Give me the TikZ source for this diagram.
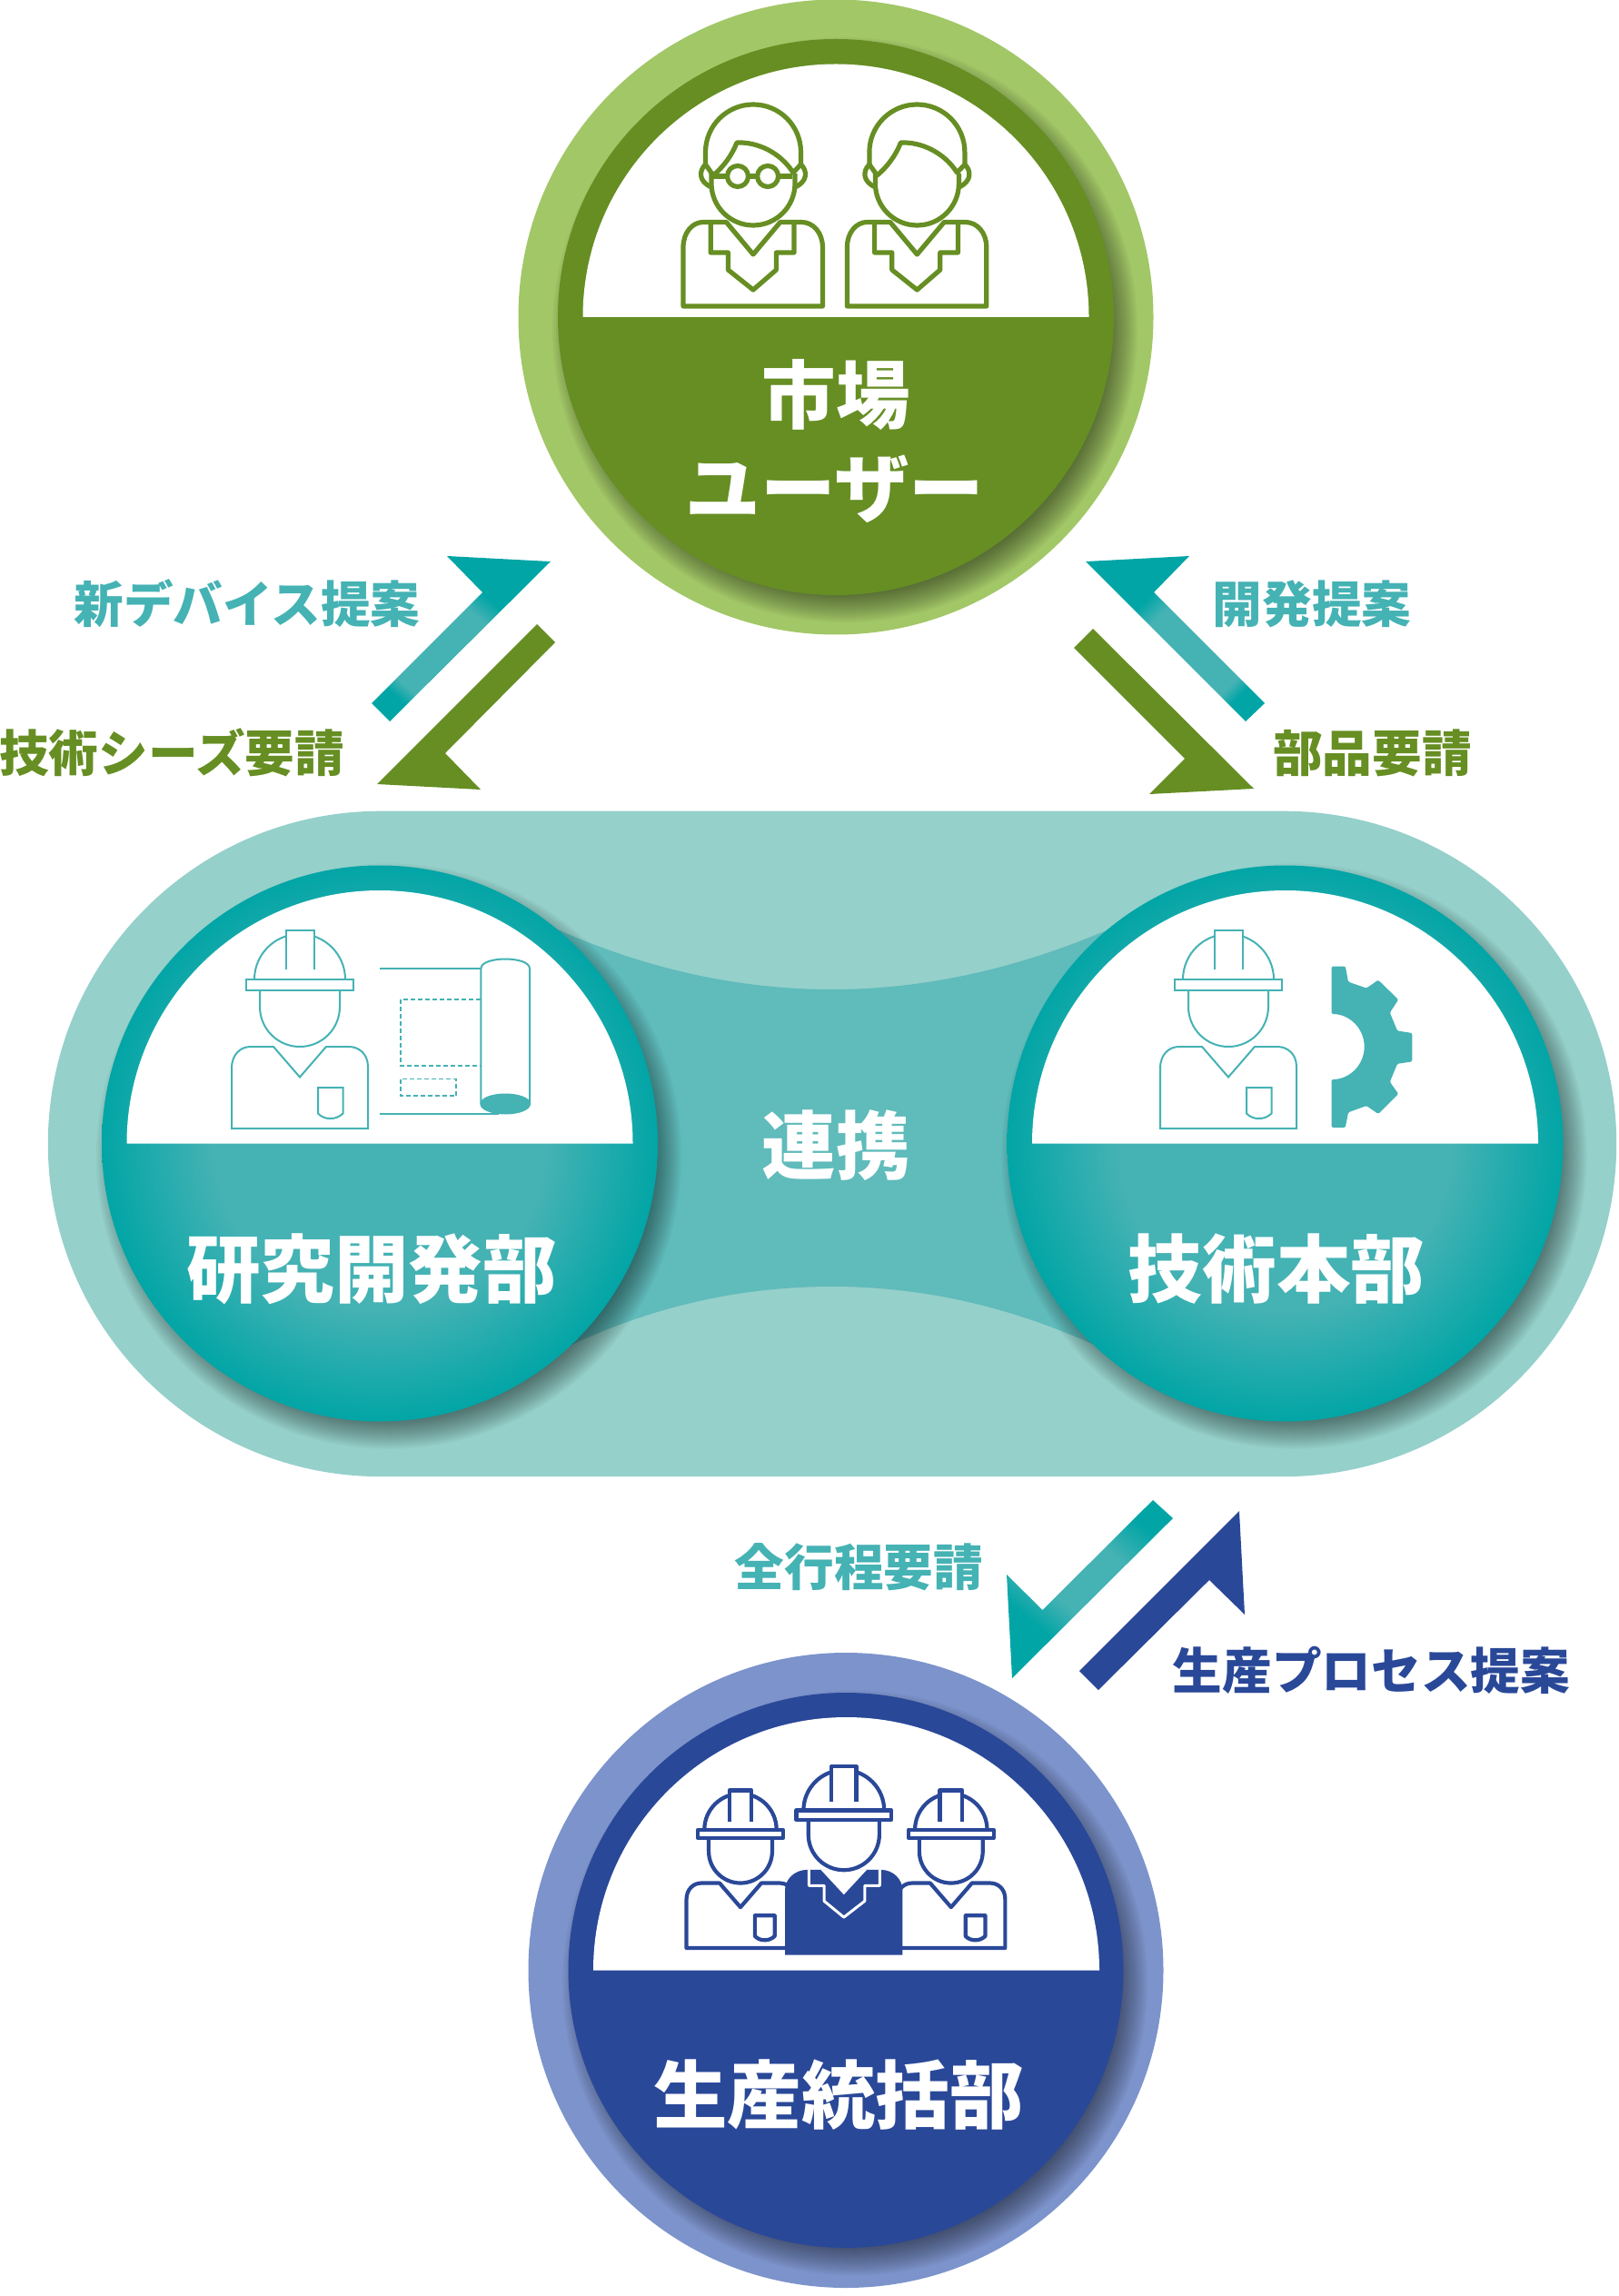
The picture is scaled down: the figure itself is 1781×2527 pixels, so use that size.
\documentclass[tikz,border=0pt]{standalone}
\usepackage{fontspec}
\setmainfont{Noto Sans CJK JP}[BoldFont={Noto Sans CJK JP Black}]
\definecolor{leafdark}{HTML}{668E23}
\definecolor{leaflight}{HTML}{A2C767}
\definecolor{tealdark}{HTML}{02A5A6}
\definecolor{teallight}{HTML}{45B2B4}
\definecolor{tealpale}{HTML}{95D0CA}
\definecolor{tealmid}{HTML}{60BBBB}
\definecolor{navydark}{HTML}{2A4898}
\definecolor{navylight}{HTML}{7C93CB}
\pgfdeclareradialshading{tealdisc}{\pgfpoint{0bp}{0bp}}{color(0bp)=(teallight); color(15bp)=(teallight); color(25bp)=(tealdark); color(50bp)=(tealdark)}
\pgfdeclareverticalshading{tealband}{100bp}{color(0bp)=(tealdark); color(25bp)=(tealdark); color(29bp)=(teallight); color(58bp)=(teallight); color(64bp)=(tealdark); color(100bp)=(tealdark)}
\pgfdeclareverticalshading{tealbandlow}{100bp}{color(0bp)=(tealdark); color(26bp)=(tealdark); color(38bp)=(teallight); color(58bp)=(teallight); color(68bp)=(tealdark); color(100bp)=(tealdark)}
\tikzset{
    smalltxt/.style={anchor=base,inner sep=0pt,font=\fontsize{15.55}{18}\selectfont\bfseries},
    bigtxt/.style={anchor=base,inner sep=0pt,text=white,font=\fontsize{23.2}{27}\selectfont\bfseries},
    iconleaf/.style={draw=leafdark,line width=0.52mm,line join=round},
    iconteal/.style={draw=teallight,line width=0.2mm},
    iconnavy/.style={draw=navydark,line width=0.42mm,line join=round},
    dashbox/.style={draw=teallight,line width=0.14mm,dash pattern=on 0.5mm off 0.3mm},
}
\newcommand{\softshadow}[2]{\foreach \sr in {286,288,...,322}{\fill[black,opacity=0.033] (#1+10,#2+14) circle (\sr);}}
\newcommand{\whitecap}[2]{\fill[white] (#1-278.5,#2) arc[start angle=180,end angle=360,radius=278.5] -- cycle;}
\newcommand{\workerhead}[4]{
    \begin{scope}[shift={(#1,#2)},scale=#3]
        \draw[#4] (-50,-74) arc[start angle=180,end angle=360,radius=50];
        \draw[#4,fill=white] (-15.5,-85) -- (-15.5,-128.5) -- (15.5,-128.5) -- (15.5,-85);
        \draw[#4,fill=white] (-59,-74) rectangle (59,-62.4);
        \draw[#4] (-44,-62.4) -- (-44,-44) arc[start angle=180,end angle=0,radius=44] -- (44,-62.4);
    \end{scope}
}
\newcommand{\workerbody}[4]{
    \begin{scope}[shift={(#1,#2)},scale=#3]
        \draw[#4] (-75,90) -- (-75,24) .. controls (-75,8) and (-65,0) .. (-54,0) -- (-29,0) -- (0,33.5) -- (29,0) -- (54,0) .. controls (65,0) and (75,8) .. (75,22) -- (75,90) -- cycle;
        \draw[#4] (20,45) -- (47.5,45) -- (47.5,73.5) .. controls (40,81) and (27,81) .. (20,73.5) -- cycle;
    \end{scope}
}
\newcommand{\casualfig}[1]{
    \begin{scope}[shift={(#1,0)}]
        \draw[iconleaf] (-52.5,181) -- (-52.5,167.5) arc[start angle=180,end angle=360,radius=52.5] -- (52.5,181);
        \draw[iconleaf] (-52.5,181) .. controls (-60,188) and (-60,200) .. (-46,206);
        \draw[iconleaf] (52.5,181) .. controls (60,188) and (60,200) .. (46,206);
        \draw[iconleaf] (-46,191) -- (-46,202) arc[start angle=180,end angle=0,radius=46] -- (46,191);
        \draw[iconleaf] (-52.5,181) -- (-44,193) .. controls (-32,183) and (-23,170) .. (-18,157) .. controls (5,156) and (30,168) .. (44,190) -- (52.5,181);
        \draw[iconleaf] (-77,337) -- (-77,272) .. controls (-77,256) and (-67,244.5) .. (-55,244.5) -- (-29.6,244.5) -- (0,280) -- (29.8,244.5) -- (53,244.5) .. controls (66,244.5) and (76.4,256) .. (76.4,272) -- (76.4,337) -- cycle;
        \draw[iconleaf] (-46.8,245) -- (-46.8,278) -- (-27.6,278) -- (-27.6,297) -- (0,319) -- (25.4,297) -- (25.4,278) -- (45,278) -- (45,245);
    \end{scope}
}
\begin{document}
\begin{tikzpicture}[x=0.1mm,y=-0.1mm]
    \useasboundingbox (0,0) rectangle (1781,2527);

    \fill[tealpale] (419,892.7) -- (1413,892.7) arc[start angle=-90,end angle=90,radius=366.2] -- (419,1625.1) arc[start angle=90,end angle=270,radius=366.2] -- cycle;
    \fill[tealmid] (590,1012) .. controls (700,1065) and (810,1089) .. (916,1089) .. controls (1020,1089) and (1130,1065) .. (1245,1012) -- (1245,1500) .. controls (1130,1440) and (1020,1416) .. (916,1416) .. controls (810,1416) and (700,1440) .. (590,1500) -- cycle;

    \fill[leaflight] (920,349) circle (349.5);
    \softshadow{920}{349}
    \fill[leafdark] (920,349) circle (306);
    \whitecap{920}{349}
    \casualfig{829}
    \casualfig{1009.4}
    \draw[iconleaf] (812,194) circle (11.5);
    \draw[iconleaf] (845.1,194) circle (11.5);
    \draw[iconleaf] (823.4,194) -- (833.4,194);
    \draw[iconleaf] (785.4,194) -- (800.4,194);
    \draw[iconleaf] (856.4,194) -- (872.4,194);

    \softshadow{418}{1258.5}
    \shade[shading=tealdisc] (418,1258.5) circle (306);
    \whitecap{418}{1258.5}
    \workerhead{330}{1152}{1}{iconteal}
    \workerbody{330}{1152}{1}{iconteal}
    \draw[iconteal] (418,1066) -- (529,1066);
    \draw[iconteal] (418,1225.5) -- (549,1225.5);
    \draw[dashbox] (528.6,1100) -- (441,1100) -- (441,1173) -- (528.6,1173);
    \draw[dashbox] (441,1187.5) rectangle (502,1206);
    \draw[iconteal,fill=white] (529.4,1215) -- (529.4,1066) .. controls (529.4,1052) and (583,1052) .. (583,1066) -- (583,1215);
    \draw[iconteal,fill=teallight] (556.2,1215) ellipse (26.8 and 10.5);

    \softshadow{1414.5}{1258.5}
    \shade[shading=tealdisc] (1414.5,1258.5) circle (306);
    \whitecap{1414.5}{1258.5}
    \workerhead{1352}{1152}{1}{iconteal}
    \workerbody{1352}{1152}{1}{iconteal}
    \fill[teallight,rounded corners=0.4pt] (1465.7,1063.5) -- (1480.8,1063.5) -- (1484,1080.6) -- (1504,1087.6) -- (1517,1078.6) -- (1539.2,1100.2) -- (1529.8,1114.5) -- (1538,1134.5) -- (1554.3,1137) -- (1554.3,1168.4) -- (1538,1170.8) -- (1529.8,1190.8) -- (1539.2,1203.9) -- (1517,1226) -- (1504,1217) -- (1484,1224.3) -- (1480.8,1241) -- (1465.7,1241) -- (1465.7,1188) arc[start angle=90,end angle=-90,radius=36] -- cycle;

    \fill[navylight] (931,2168.5) circle (349.5);
    \softshadow{931}{2168.5}
    \fill[navydark] (931,2168.5) circle (305.5);
    \whitecap{931.5}{2168.5}
    \workerhead{815}{2072.5}{0.794}{iconnavy}
    \workerbody{815}{2072.5}{0.794}{iconnavy}
    \workerhead{1046.8}{2072.5}{0.794}{iconnavy}
    \workerbody{1046.8}{2072.5}{0.794}{iconnavy}
    \fill[navydark] (864,2151.5) -- (864,2080.5) .. controls (864,2068.5) and (874.4,2057.9) .. (888.4,2057.9) -- (969.4,2057.9) .. controls (983.4,2057.9) and (993.4,2068.5) .. (993.4,2080.5) -- (993.4,2151.5) -- cycle;
    \fill[white] (903.1,2057.5) -- (928.8,2085.2) -- (954.4,2057.5) -- cycle;
    \draw[white,line width=0.3mm,line join=round] (890.4,2057.5) -- (890.4,2075.3) -- (907.1,2075.3) -- (907.1,2092.3) -- (928.8,2110.1) -- (951.8,2092.3) -- (951.8,2075.3) -- (968.4,2075.3) -- (968.4,2057.5);
    \workerhead{928.8}{2058.2}{0.888}{iconnavy}

    \shade[shading=tealband,shading angle=-40] (492,612) -- (606,618) -- (429,794) -- (409,774) -- (531,652) -- cycle;
    \fill[leafdark] (591,687) -- (611,707) -- (490,829) -- (529,869) -- (415,863) -- cycle;
    \shade[shading=tealband,shading angle=45] (1195,618) -- (1309,612) -- (1270,652) -- (1392,774) -- (1371,794) -- cycle;
    \fill[leafdark] (1203,692) -- (1380,868) -- (1265,874) -- (1304,835) -- (1182,713) -- cycle;
    \shade[shading=tealbandlow,shading angle=140] (1269,1651) -- (1291,1671) -- (1114,1847) -- (1108,1733) -- (1147.5,1772) -- cycle;
    \fill[navydark] (1364,1663) -- (1370,1777) -- (1331,1739) -- (1209,1860) -- (1188,1839) -- cycle;

    \node[bigtxt] (market) at (920,466) {市場};
    \node[bigtxt,font=\fontsize{23.5}{27}\selectfont\bfseries] (user) at (919,569) {ユーザー};
    \node[bigtxt] (link) at (920.5,1291) {連携};
    \node[bigtxt] (research) at (409,1427.5) {研究開発部};
    \node[bigtxt] (techhq) at (1405,1427.5) {技術本部};
    \node[bigtxt] (prodhq) at (923,2336) {生産統括部};
    \node[smalltxt,text=teallight] (newdevice) at (272,685) {新デバイス提案};
    \node[smalltxt,text=leafdark] (seeds) at (189,849.5) {技術シーズ要請};
    \node[smalltxt,text=teallight] (devprop) at (1444,685) {開発提案};
    \node[smalltxt,text=leafdark] (partsreq) at (1510.5,849.5) {部品要請};
    \node[smalltxt,text=teallight] (allsteps) at (945.5,1745) {全行程要請};
    \node[smalltxt,text=navydark] (procprop) at (1509.5,1859) {生産プロセス提案};
\end{tikzpicture}
\end{document}
